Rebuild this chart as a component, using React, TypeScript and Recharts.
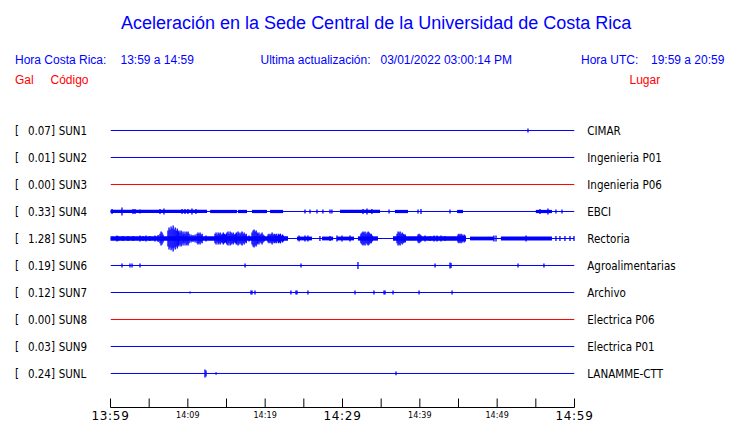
import React from "react";
import { ComposedChart, Line, Scatter, ErrorBar, XAxis, YAxis, ReferenceArea } from "recharts";

// ---------- data ----------
const STATION_CODES = ["SUN1", "SUN2", "SUN3", "SUN4", "SUN5", "SUN6", "SUN7", "SUN8", "SUN9", "SUNL"];
const PEAK_GAL = [0.07, 0.01, 0.0, 0.33, 1.28, 0.19, 0.12, 0.0, 0.03, 0.24];
const PLACES = [
  "CIMAR",
  "Ingenieria P01",
  "Ingenieria P06",
  "EBCI",
  "Rectoria",
  "Agroalimentarias",
  "Archivo",
  "Electrica P06",
  "Electrica P01",
  "LANAMME-CTT",
];

// time window, seconds after 13:59 (local)
const WINDOW_SECONDS = [0, 3600];
const TICK_SECONDS = [0, 300, 600, 900, 1200, 1500, 1800, 2100, 2400, 2700, 3000, 3300, 3600];
const TICK_LABELS = ["13:59", "", "14:09", "", "14:19", "", "14:29", "", "14:39", "", "14:49", "", "14:59"];
const MAJOR_TICK_LABELS = ["13:59", "14:29", "14:59"];

// burst samples: [start second, amplitudes (trace units, row spacing = 100)], one sample every 8 s
const SAMPLE_STEP = 8;
const SUN1_SPIKES: [number, number[]][] = [[3239, [7]]];
const SUN4_SPIKES: [number, number[]][] = [
  [12, [9]], [89, [15]], [175, [9]], [190, [9]], [229, [7]], [384, [9]], [415, [11]],
  [555, [9]], [578, [9]], [601, [9]], [632, [11]], [663, [9]],
  [1509, [7]], [1548, [7]], [1602, [7]], [1648, [7]], [1703, [7]], [1718, [7]],
  [1959, [9]], [1990, [11]], [2028, [9]], [2161, [7]], [2386, [7]], [2409, [9]],
  [2634, [7]], [3332, [9]], [3394, [11]], [3456, [7]], [3503, [7]],
];
const SUN5_SPIKES: [number, number[]][] = [
  [50, [11, 9]], [97, [9]], [136, [9]], [175, [9]], [229, [11]], [252, [9]], [275, [11]],
  [306, [9]], [345, [11]], [369, [13]],
  [384, [18, 26, 22, 15]],
  [446, [30, 41, 33, 44, 37, 48, 33, 41, 30, 37, 26]],
  [531, [30, 22, 30, 26, 18]],
  [570, [26, 18, 26, 22, 26, 18]],
  [625, [15]], [640, [13]], [656, [15]],
  [671, [18, 22, 18, 22, 15, 18]],
  [741, [11]],
  [811, [18, 22, 15, 22, 18, 22, 15, 18, 22, 18, 15, 18]],
  [904, [22, 26, 18, 26, 22, 18, 22, 15, 18, 22]],
  [981, [18, 26, 22, 18, 22, 26, 18, 22, 15, 18]],
  [1075, [11]],
  [1098, [22, 30, 33, 26, 30, 22]],
  [1144, [18, 22, 15, 18, 22, 15, 11]],
  [1222, [15, 18, 15, 18, 22, 15, 18, 15, 18, 11, 18, 15, 18, 11, 15, 11]],
  [1463, [11]], [1509, [11]], [1532, [11]], [1625, [9]], [1703, [9]], [1757, [11]], [1796, [11]], [1858, [11]],
  [1943, [18, 22, 26, 22, 26, 18, 22, 26, 22, 18, 18, 11]],
  [2223, [18, 26, 22, 26, 18, 22, 18, 15, 15]],
  [2386, [15, 18, 15, 11]],
  [2440, [11]], [2479, [9]], [2510, [11]], [2533, [11]], [2564, [11]], [2595, [9]],
  [2696, [15, 18, 15, 18, 15, 11, 15, 11]],
  [2975, [11]], [2991, [11]], [3224, [11]], [3456, [9]], [3487, [9]], [3526, [9]], [3565, [9]], [3596, [9]],
];
const SUN6_SPIKES: [number, number[]][] = [
  [89, [7]], [151, [7]], [167, [7]], [229, [7]], [1044, [7]], [1478, [7]], [1920, [13]],
  [2518, [7]], [2634, [11, 9]], [3162, [7]], [3363, [7]],
];
const SUN7_SPIKES: [number, number[]][] = [
  [617, [4]], [1090, [7, 7]], [1121, [7]], [1400, [7]], [1439, [7, 7]], [1532, [7]],
  [1897, [7]], [2044, [7]], [2122, [7, 7]], [2192, [7]], [2394, [7]], [2650, [7]],
];
const SUNL_SPIKES: [number, number[]][] = [[733, [15, 11]], [819, [5]], [2215, [7]]];

// sustained noise: [from second, to second, amplitude]
const SUN4_NOISE: [number, number, number][] = [
  [0, 749, 6], [773, 981, 6], [989, 1059, 6], [1098, 1214, 6], [1238, 1339, 6],
  [1781, 2091, 6], [2207, 2308, 6], [2689, 2735, 6], [3300, 3425, 6],
];
const SUN5_NOISE: [number, number, number][] = [
  [0, 1377, 8], [1447, 1563, 7], [1641, 1727, 7], [1757, 1889, 7], [1920, 2075, 8],
  [2192, 2758, 8], [2789, 2975, 7], [3029, 3425, 7],
];

const TRACE_SPIKES = [SUN1_SPIKES, [], [], SUN4_SPIKES, SUN5_SPIKES, SUN6_SPIKES, SUN7_SPIKES, [], [], SUNL_SPIKES];
const TRACE_NOISE = [[], [], [], SUN4_NOISE, SUN5_NOISE, [], [], [], [], []];

// ---------- styles ----------
const ROW = 100;
const Y_DOMAIN = [-100, 1026];
const BLUE = "#0000ff";
const RED = "#ff0000";
const TRACE_COLORS = [BLUE, BLUE, RED, BLUE, BLUE, BLUE, BLUE, RED, BLUE, BLUE];
const LABEL_FONT = "'DejaVu Sans Condensed', 'DejaVu Sans', sans-serif";
const HEAD_FONT = "'Liberation Sans', Arial, sans-serif";

const rowTicks = STATION_CODES.map((_, i) => i * ROW);

function StationTick(props: any) {
  const { y, payload } = props;
  const i = Math.round(payload.value / ROW);
  const by = y + 4.2;
  return (
    <g fontFamily={LABEL_FONT} fontSize={11.5} fill="#000" style={{ fontStretch: "condensed" }}>
      <text x={15} y={by}>[</text>
      <text x={55} y={by} textAnchor="end">{PEAK_GAL[i].toFixed(2)}]</text>
      <text x={58.7} y={by}>{STATION_CODES[i]}</text>
    </g>
  );
}

function PlaceTick(props: any) {
  const { y, payload } = props;
  const i = Math.round(payload.value / ROW);
  return (
    <text x={587.3} y={y + 4.2} fontFamily={LABEL_FONT} fontSize={11.5} fill="#000" style={{ fontStretch: "condensed" }}>
      {PLACES[i]}
    </text>
  );
}

function TimeTick(props: any) {
  const { x, y, payload } = props;
  const idx = TICK_SECONDS.indexOf(payload.value);
  const label = TICK_LABELS[idx] || "";
  const major = MAJOR_TICK_LABELS.includes(label);
  return (
    <g>
      <line x1={x} x2={x} y1={y - 9} y2={y} stroke="#000" strokeWidth={1} />
      {label ? (
        <text
          x={x}
          y={major ? y + 12.5 : y + 10}
          textAnchor="middle"
          fontFamily="'DejaVu Sans', sans-serif"
          fontSize={major ? 12 : 8}
          letterSpacing={major ? 0.7 : 0.1}
          fill="#000"
        >
          {label}
        </text>
      ) : null}
    </g>
  );
}

const Nothing = () => <g />;

export default function App() {
  const baselines = STATION_CODES.map((_, i) => [
    { s: WINDOW_SECONDS[0], v: i * ROW },
    { s: WINDOW_SECONDS[1], v: i * ROW },
  ]);
  const spikePoints = TRACE_SPIKES.map((list, i) =>
    (list as [number, number[]][]).flatMap(([start, amps]) =>
      amps.map((a, k) => ({ s: start + k * SAMPLE_STEP, v: i * ROW, e: a }))
    )
  );

  return (
    <div style={{ position: "absolute", left: 0, top: 0, width: 740, height: 423, background: "#fff" }}>
      <ComposedChart width={740} height={423} margin={{ top: 103.5, right: 0, bottom: 0, left: 0 }}>
        <XAxis
          type="number"
          dataKey="s"
          domain={WINDOW_SECONDS}
          ticks={TICK_SECONDS}
          interval={0}
          height={15.5}
          tickLine={false}
          tickSize={0}
          tickMargin={0}
          axisLine={{ stroke: "#000", strokeWidth: 1 }}
          tick={<TimeTick />}
          allowDataOverflow
        />
        <YAxis
          type="number"
          dataKey="v"
          domain={Y_DOMAIN}
          reversed
          ticks={rowTicks}
          interval={0}
          width={110.5}
          axisLine={false}
          tickLine={false}
          tick={<StationTick />}
          allowDataOverflow
        />
        <YAxis
          yAxisId="right"
          orientation="right"
          type="number"
          dataKey="v"
          domain={Y_DOMAIN}
          reversed
          ticks={rowTicks}
          interval={0}
          width={165.5}
          axisLine={false}
          tickLine={false}
          tick={<PlaceTick />}
          allowDataOverflow
        />
        {TRACE_NOISE.map((list, i) =>
          (list as [number, number, number][]).map(([a, b, amp], k) => (
            <ReferenceArea
              key={`n${i}-${k}`}
              x1={a}
              x2={b}
              y1={i * ROW - amp}
              y2={i * ROW + amp}
              fill={TRACE_COLORS[i]}
              fillOpacity={1}
              stroke="none"
              ifOverflow="visible"
            />
          ))
        )}
        {baselines.map((d, i) => (
          <Line
            key={`l${i}`}
            data={d}
            dataKey="v"
            stroke={TRACE_COLORS[i]}
            strokeWidth={1}
            dot={false}
            activeDot={false}
            isAnimationActive={false}
          />
        ))}
        {spikePoints.map((d, i) =>
          d.length ? (
            <Scatter key={`s${i}`} data={d} shape={<Nothing />} isAnimationActive={false}>
              <ErrorBar dataKey="e" direction="y" width={0} stroke={TRACE_COLORS[i]} strokeWidth={1.3} isAnimationActive={false} />
            </Scatter>
          ) : null
        )}
      </ComposedChart>
      <svg
        width={740}
        height={423}
        style={{ position: "absolute", left: 0, top: 0, pointerEvents: "none" }}
        fontFamily={HEAD_FONT}
      >
        <text x={121} y={28.5} fontSize={18} fill={BLUE}>
          Aceleración en la Sede Central de la Universidad de Costa Rica
        </text>
        <g fontSize={12} fill={BLUE}>
          <text x={15} y={64.3}>Hora Costa Rica:</text>
          <text x={120.5} y={64.3}>13:59 a 14:59</text>
          <text x={260.5} y={64.3}>Ultima actualización:</text>
          <text x={380.5} y={64.3}>03/01/2022 03:00:14 PM</text>
          <text x={581} y={64.3}>Hora UTC:</text>
          <text x={651} y={64.3}>19:59 a 20:59</text>
        </g>
        <g fontSize={12} fill={RED}>
          <text x={15} y={84.3}>Gal</text>
          <text x={50.5} y={84.3}>Código</text>
          <text x={629.5} y={84.3}>Lugar</text>
        </g>
      </svg>
    </div>
  );
}
